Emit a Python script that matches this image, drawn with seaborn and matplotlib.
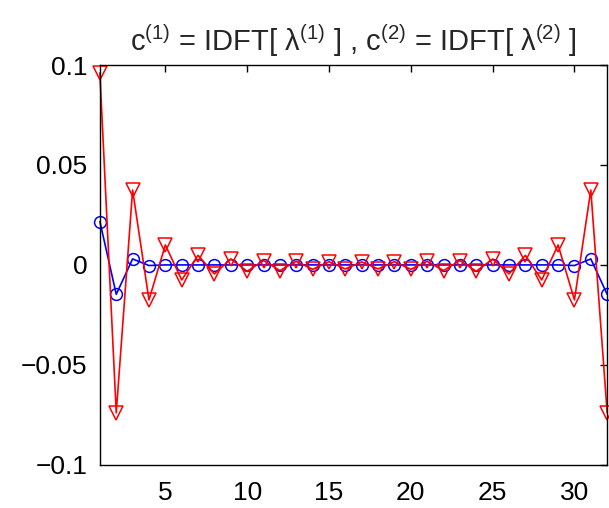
import matplotlib
matplotlib.use("Agg")
import matplotlib.pyplot as plt
import seaborn as sns

# sample index n = 1..32
n = list(range(1, 33))

# c(1) = IDFT[lambda(1)]  (blue circles)
c1 = [0.0217, -0.0147, 0.0030, -0.0003, 0.0, 0.0, 0.0, 0.0,
      0.0, 0.0, 0.0, 0.0, 0.0, 0.0, 0.0, 0.0,
      0.0, 0.0, 0.0, 0.0, 0.0, 0.0, 0.0, 0.0,
      0.0, 0.0, 0.0, 0.0, 0.0, -0.0003, 0.0030, -0.0147]

# c(2) = IDFT[lambda(2)]  (red triangles)
c2 = [0.0960, -0.0740, 0.0375, -0.0175, 0.0100, -0.0075, 0.0048, -0.0045,
      0.0030, -0.0032, 0.0022, -0.0028, 0.0018, -0.0022, 0.0016, -0.0020,
      0.0015, -0.0020, 0.0016, -0.0022, 0.0018, -0.0028, 0.0022, -0.0032,
      0.0030, -0.0045, 0.0048, -0.0075, 0.0100, -0.0175, 0.0375, -0.0740]

xticks = [5, 10, 15, 20, 25, 30]
yticks = [-0.1, -0.05, 0, 0.05, 0.1]
ytick_labels = ["\u22120.1", "\u22120.05", "0", "0.05", "0.1"]

sns.set_style("white")
plt.rcParams["font.family"] = ["Liberation Sans", "DejaVu Sans"]
plt.rcParams["mathtext.fontset"] = "custom"
plt.rcParams["mathtext.rm"] = "Liberation Sans"
plt.rcParams["mathtext.it"] = "Liberation Sans"
plt.rcParams["mathtext.bf"] = "Liberation Sans:bold"

fig = plt.figure(figsize=(6.09, 5.08), dpi=100)
ax = fig.add_axes([0.164, 0.085, 0.833, 0.787])

sns.lineplot(x=n, y=c1, ax=ax, color="blue", linewidth=1.2,
             marker="o", markersize=8.5, markerfacecolor="none",
             markeredgecolor="blue", markeredgewidth=1.1, clip_on=False)
sns.lineplot(x=n, y=c2, ax=ax, color="red", linewidth=1.2,
             marker="v", markersize=10, markerfacecolor="none",
             markeredgecolor="red", markeredgewidth=1.1, clip_on=False)

ax.set_xlim(1, 32)
ax.set_ylim(-0.1, 0.1)
ax.set_xticks(xticks)
ax.set_yticks(yticks)
ax.set_yticklabels(ytick_labels)
ax.tick_params(direction="in", length=5, width=1, top=True, right=True,
               labelsize=19, colors="black")
ax.tick_params(axis="x", pad=12)
ax.tick_params(axis="y", pad=9)
for sp in ax.spines.values():
    sp.set_visible(True)
    sp.set_color("black")
    sp.set_linewidth(1.0)

ax.set_title("c$^{(1)}$ = IDFT[ \u03bb$^{(1)}$ ] , c$^{(2)}$ = IDFT[ \u03bb$^{(2)}$ ]",
             fontsize=21, pad=10)

fig.savefig("out.png", dpi=100)
